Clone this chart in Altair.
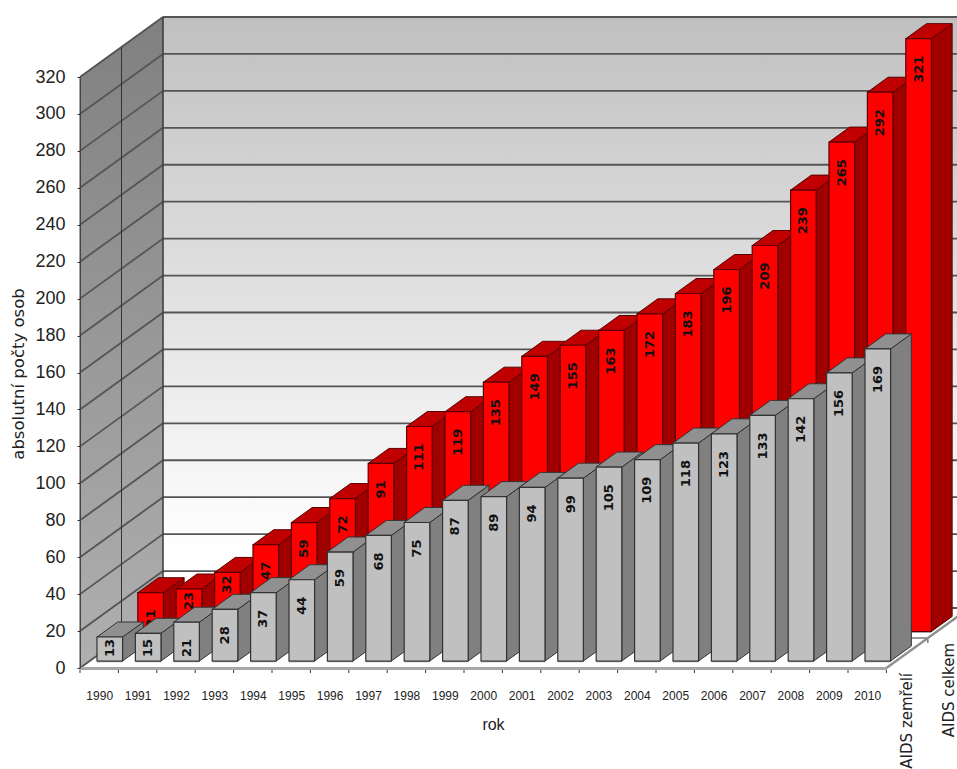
import altair as alt
import pandas as pd

years = list(range(1990, 2011))
total_cases = [21, 23, 32, 47, 59, 72, 91, 111, 119, 135, 149, 155, 163, 172, 183, 196, 209, 239, 265, 292, 321]
deceased = [13, 15, 21, 28, 37, 44, 59, 68, 75, 87, 89, 94, 99, 105, 109, 118, 123, 133, 142, 156, 169]
y_ticks = list(range(0, 321, 20))

PLOT_W, PLOT_H = 806.4, 591.0
X_MAX, Y_MAX = len(years), 320
PX_X = PLOT_W / X_MAX
PX_Y = PLOT_H / Y_MAX

# Oblique projection: full depth of the box moves a point right and up
DEPTH_X = 83.0 / PX_X
DEPTH_Y = 60.0 / PX_Y
BAR_W = 25.6 / PX_X
BAR_OFFSET = 7.3 / PX_X  # gap from the slot's left edge to the bar at depth 0

FONT_AXIS = "Liberation Sans"
FONT_WIDE = "DejaVu Sans"


def px(d):
    return d * DEPTH_X


def py(d):
    return d * DEPTH_Y


def X(f="x", **kw):
    return alt.X(f"{f}:Q", scale=alt.Scale(domain=[0, X_MAX], nice=False, zero=False), **kw)


def Y(f="y", **kw):
    return alt.Y(f"{f}:Q", scale=alt.Scale(domain=[0, Y_MAX], nice=False, zero=False), stack=None, **kw)


def bar_tables(values, d_front, d_back):
    front, side, top, base = [], [], [], []
    dd = d_back - d_front
    for i, v in enumerate(values):
        left = i + BAR_OFFSET + px(d_front)
        right = left + BAR_W
        lo = py(d_front)
        hi = v + lo
        front.append({"x": left, "x2": right, "y": lo, "y2": hi})
        base.append({"x": left, "x2": right, "y": lo})
        side.append({"id": i, "x": right, "y": lo, "y2": hi})
        side.append({"id": i, "x": right + px(dd), "y": lo + py(dd), "y2": hi + py(dd)})
        top.append({"id": i, "y": hi, "x": left, "x2": right})
        top.append({"id": i, "y": hi + py(dd), "x": left + px(dd), "x2": right + px(dd)})
    return map(pd.DataFrame, (front, side, top, base))


def bar_layers(values, d_front, d_back, c_front, c_top, c_side, c_edge):
    front, side, top, base = bar_tables(values, d_front, d_back)
    return [
        alt.Chart(base).mark_rule(color="#808080", strokeWidth=2.4).encode(
            x=X("x", axis=None), x2="x2:Q", y=Y("y", axis=None)),
        alt.Chart(side).mark_area(color=c_side, stroke=c_edge, strokeWidth=1).encode(
            x=X("x", axis=None), y=Y("y", axis=None), y2="y2:Q", detail="id:N"),
        alt.Chart(top).mark_area(color=c_top, stroke=c_edge, strokeWidth=1, orient="horizontal").encode(
            y=Y("y", axis=None), x=X("x", axis=None), x2="x2:Q", detail="id:N"),
        alt.Chart(front).mark_rect(color=c_front, stroke=c_edge, strokeWidth=1.2).encode(
            x=X("x", axis=None), x2="x2:Q", y=Y("y", axis=None), y2="y2:Q"),
    ]


def value_labels(values, d_front, tight=()):
    rows = []
    lo = py(d_front)
    for i, v in enumerate(values):
        x = i + BAR_OFFSET + px(d_front) + BAR_W / 2
        # the label's end sits under the bar top, but stays inside short bars
        gap = 3 if v in tight else 17
        end = max(v + lo - gap / PX_Y, lo + 22 / PX_Y)
        rows.append({"x": x, "y": end, "t": str(v)})
    return alt.Chart(pd.DataFrame(rows)).mark_text(
        angle=270, align="right", baseline="middle", font=FONT_WIDE, fontSize=13,
        fontWeight="bold", color="#111111"
    ).encode(x=X("x", axis=None), y=Y("y", axis=None), text="t:N")


# Walls
back_wall = alt.Chart(pd.DataFrame([{
    "x": px(1), "x2": X_MAX + px(1), "y": py(1), "y2": Y_MAX + py(1)
}])).mark_rect(
    color=alt.Gradient(gradient="linear", x1=0, x2=0, y1=0, y2=1, stops=[
        alt.GradientStop(color="#c0c0c0", offset=0),
        alt.GradientStop(color="#ffffff", offset=0.9),
        alt.GradientStop(color="#ffffff", offset=1),
    ])
).encode(
    x=X("x", axis=alt.Axis(
        values=[i + 0.5 for i in range(len(years))],
        labelExpr=f"datum.value + {years[0] - 0.5}",
        format="d", tickSize=0, labelPadding=22, labelFont=FONT_AXIS, labelFontSize=12,
        labelColor="#222222", domainColor="#a6a6a6", domainWidth=3, grid=False, labelOverlap=False,
        title="rok", titleFont=FONT_AXIS, titleFontSize=16, titleFontWeight="normal",
        titleColor="#222222", titleX=413, titleY=61, titleBaseline="alphabetic", zindex=1,
    )),
    x2="x2:Q",
    y=Y("y", axis=alt.Axis(
        values=y_ticks, tickSize=3, tickColor="#333333", labelPadding=12, labelFont=FONT_AXIS,
        labelFontSize=18, labelColor="#222222", domainColor="#444444", domainWidth=1, grid=False,
        labelOverlap=False, title="absolutní počty osob", titleFont=FONT_WIDE, titleFontSize=16.5,
        titleFontWeight="normal", titleColor="#222222", titleX=-57, titleY=PLOT_H / 2 + 1,
        titleBaseline="alphabetic", zindex=1,
    )),
    y2="y2:Q",
)

left_wall = alt.Chart(pd.DataFrame([
    {"x": 0, "y": 0, "y2": Y_MAX},
    {"x": px(1), "y": py(1), "y2": Y_MAX + py(1)},
])).mark_area(
    color=alt.Gradient(gradient="linear", x1=0, x2=0, y1=0, y2=1, stops=[
        alt.GradientStop(color="#808080", offset=0),
        alt.GradientStop(color="#b0b0b0", offset=1),
    ]),
    stroke="#444444", strokeWidth=1,
).encode(x=X("x", axis=None), y=Y("y", axis=None), y2="y2:Q")

# Grid lines run along the left wall, then across the back wall
grid_rows = []
for t in y_ticks:
    grid_rows.append({"x": 0, "x2": px(1), "y": t, "y2": t + py(1)})
    grid_rows.append({"x": px(1), "x2": X_MAX + px(1), "y": t + py(1), "y2": t + py(1)})
grid = alt.Chart(pd.DataFrame(grid_rows)).mark_rule(color="#555555", strokeWidth=1.8).encode(
    x=X("x", axis=None), x2="x2:Q", y=Y("y", axis=None), y2="y2:Q")

# Box edges and the divider between the two rows of bars
edge_rows = [
    {"x": px(1), "x2": px(1), "y": py(1), "y2": Y_MAX + py(1)},
    {"x": px(0.5), "x2": px(0.5), "y": py(0.5), "y2": Y_MAX + py(0.5)},
    {"x": px(0.5), "x2": X_MAX + px(0.5), "y": py(0.5), "y2": py(0.5)},
]
edges = alt.Chart(pd.DataFrame(edge_rows)).mark_rule(color="#333333", strokeWidth=1).encode(
    x=X("x", axis=None), x2="x2:Q", y=Y("y", axis=None), y2="y2:Q")

floor_edge = alt.Chart(pd.DataFrame([
    {"x": X_MAX, "x2": X_MAX + px(1), "y": 0, "y2": py(1)},
])).mark_rule(color="#8f8f8f", strokeWidth=2.4).encode(
    x=X("x", axis=None), x2="x2:Q", y=Y("y", axis=None), y2="y2:Q")

# Short ticks below the front edge, and on the side edge between the rows
tick_rows = [{"x": i, "y": -0.8, "y2": -2.7} for i in range(X_MAX + 1)]
tick_rows.append({"x": X_MAX + px(0.5), "y": py(0.5) - 0.8, "y2": py(0.5) - 2.7})
ticks = alt.Chart(pd.DataFrame(tick_rows)).mark_rule(color="#333333", strokeWidth=1).encode(
    x=X("x", axis=None), y=Y("y", axis=None), y2="y2:Q")

RED_FRONT, RED_BACK = 36.5 / 60, 51.5 / 60
GRAY_FRONT, GRAY_BACK = 7 / 60, 22 / 60

red = bar_layers(total_cases, RED_FRONT, RED_BACK, "#ff0000", "#c00000", "#a00000", "#5a0000")
gray = bar_layers(deceased, GRAY_FRONT, GRAY_BACK, "#c0c0c0", "#909090", "#808080", "#333333")

# Row names along the side edge of the floor
series_names = alt.Chart(pd.DataFrame([
    {"x": X_MAX + px(0.25), "y": py(0.25) - 20 / PX_Y, "t": "AIDS zemřelí"},
    {"x": X_MAX + px(0.75), "y": py(0.75) - 20 / PX_Y, "t": "AIDS celkem"},
])).mark_text(
    angle=270, align="right", baseline="middle", font=FONT_WIDE, fontSize=15, color="#222222"
).encode(x=X("x", axis=None), y=Y("y", axis=None), text="t:N")

chart = alt.layer(
    back_wall, left_wall, grid, edges, floor_edge, ticks,
    *red, value_labels(total_cases, RED_FRONT, tight=(23, 32)),
    *gray, value_labels(deceased, GRAY_FRONT),
    series_names,
).resolve_axis(x="independent", y="independent").properties(
    width=PLOT_W, height=PLOT_H,
    padding={"left": 80, "top": 77, "right": 70.6, "bottom": 101},
    autosize=alt.AutoSizeParams(type="none"),
    background="#ffffff",
).configure_view(stroke=None)

chart.save("out.html", embed_options={"renderer": "svg", "actions": False})
